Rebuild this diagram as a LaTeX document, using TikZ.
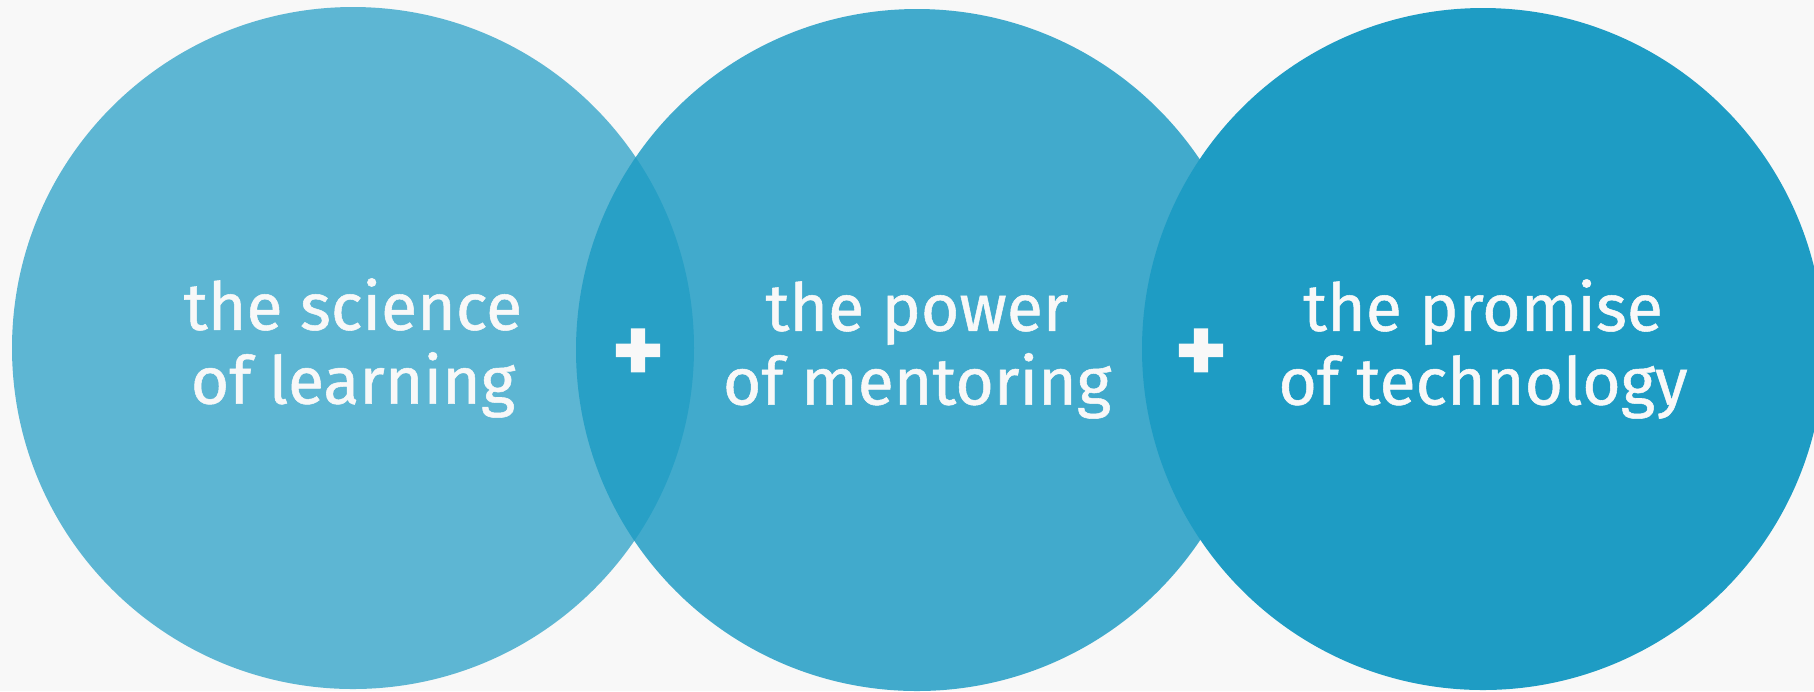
\documentclass[tikz,border=0pt]{standalone}
\usepackage{fontspec}
\setmainfont{Fira Sans}
\newfontfamily\capfont{Fira Sans}[FakeBold=0.8]
\newfontfamily\plusfont{Fira Sans}[FakeBold=1.5]
\usepackage{tikz}

\definecolor{pagebg}{RGB}{248,248,248}
\definecolor{venblue}{RGB}{30,156,196}

\tikzset{
  bubble/.style={circle, fill=venblue, minimum size=68.2mm, inner sep=0pt},
  caption/.style={text=pagebg, align=center, inner sep=0pt,
    font=\capfont\fontsize{18.8pt}{21pt}\selectfont},
  plussign/.style={text=pagebg, inner sep=0pt,
    font=\plusfont\bfseries\fontsize{28pt}{28pt}\selectfont}
}

\begin{document}
\begin{tikzpicture}[x=0.1mm, y=-0.1mm]
        % Draw the background
        \useasboundingbox (0,0) rectangle (1814,691);
        \fill[pagebg] (0,0) rectangle (1814,691);
        \clip (0,0) rectangle (1814,691);

        % Draw the three circles
        \node[bubble, opacity=0.71] (science) at (353,348) {};
        \node[bubble, opacity=0.84] (mentoring) at (917,350) {};
        \node[bubble] (technology) at (1483,349) {};

        % Add the labels
        \node[caption] (sciencetext) at (science) {the science\\of learning};
        \node[caption] (mentoringtext) at (mentoring) {the power\\of mentoring};
        \node[caption] (technologytext) at (technology) {the promise\\of technology};

        % Add the plus signs between them
        \node[plussign] (plusa) at (638,356) {+};
        \node[plussign] (plusb) at (1201,356) {+};
    \end{tikzpicture}
\end{document}
